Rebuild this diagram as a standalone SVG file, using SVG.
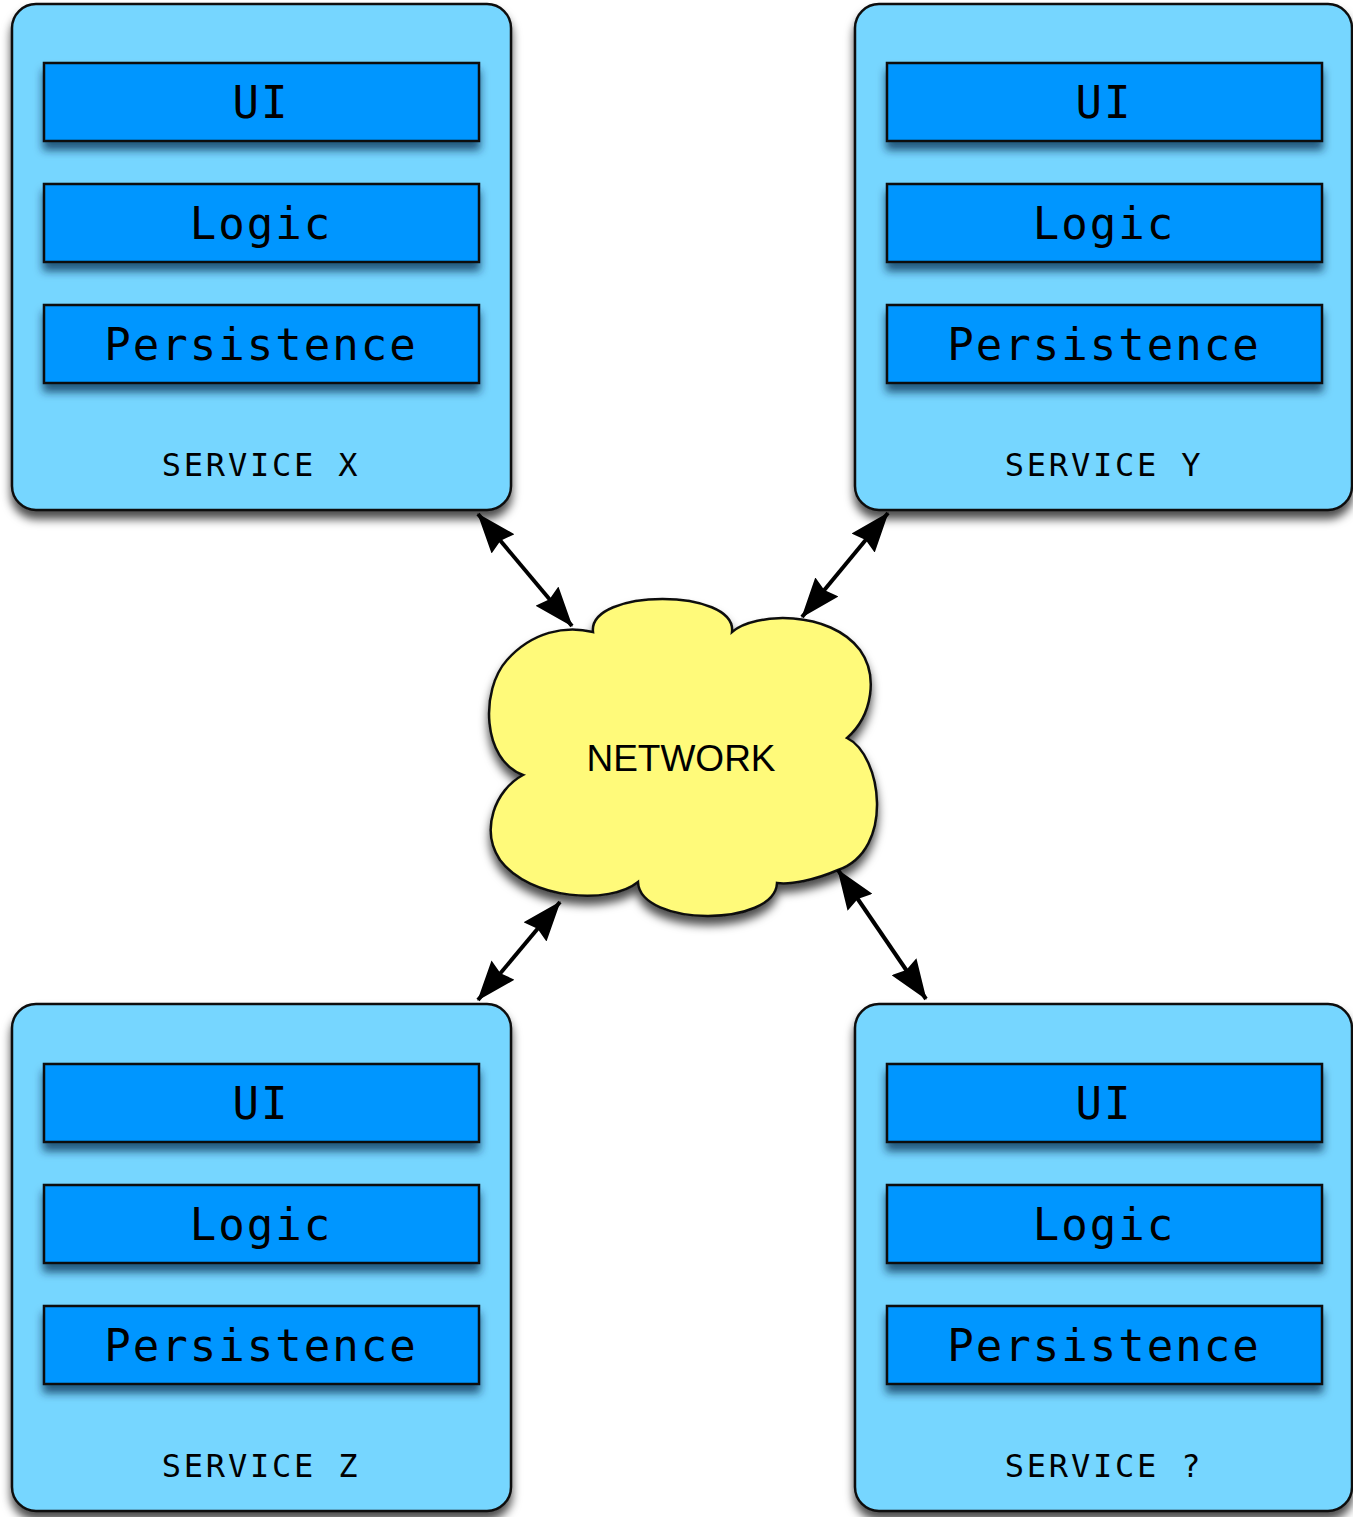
<svg xmlns="http://www.w3.org/2000/svg" width="1353" height="1517" viewBox="0 0 1353 1517">
  <defs>
    <filter id="shadow" x="-10%" y="-10%" width="125%" height="130%">
      <feDropShadow dx="0" dy="8" stdDeviation="5" flood-color="#000" flood-opacity="0.7"/>
    </filter>
    <filter id="barShadow" x="-5%" y="-20%" width="110%" height="160%">
      <feDropShadow dx="0" dy="8" stdDeviation="4" flood-color="#002244" flood-opacity="0.7"/>
    </filter>
    <marker id="head" viewBox="0 0 40 30" refX="39" refY="15" markerWidth="40" markerHeight="30" markerUnits="userSpaceOnUse" orient="auto-start-reverse">
      <path d="M0,0 L40,15 L0,30 L4,15 Z" fill="#000"/>
    </marker>
  </defs>
  <style>
    .svc { fill: #76d6ff; stroke: #111; stroke-width: 2.5; }
    .bar { fill: #0096ff; stroke: #111; stroke-width: 2.5; }
    .layer { font-family: "DejaVu Sans Mono", "Liberation Mono", monospace; font-size: 44px; letter-spacing: 2px; fill: #000; text-anchor: middle; }
    .name { font-family: "DejaVu Sans Mono", "Liberation Mono", monospace; font-size: 32px; letter-spacing: 2.8px; fill: #000; text-anchor: middle; }
    .cloud { fill: #fffa7a; stroke: #111; stroke-width: 2.5; }
    .net { font-family: "Liberation Sans", Arial, sans-serif; font-size: 37px; fill: #000; text-anchor: middle; }
    .link { stroke: #000; stroke-width: 4; fill: none; marker-start: url(#head); marker-end: url(#head); }
  </style>

  <!-- service X -->
  <g id="service-x">
    <rect class="svc" x="12" y="4" width="499" height="506" rx="24" filter="url(#shadow)"/>
    <rect class="bar" x="44" y="63" width="435" height="78" filter="url(#barShadow)"/>
    <text class="layer" x="261" y="118">UI</text>
    <rect class="bar" x="44" y="184" width="435" height="78" filter="url(#barShadow)"/>
    <text class="layer" x="261" y="239">Logic</text>
    <rect class="bar" x="44" y="305" width="435" height="78" filter="url(#barShadow)"/>
    <text class="layer" x="261" y="360">Persistence</text>
    <text class="name" x="261" y="476">SERVICE X</text>
  </g>

  <!-- service Y -->
  <g id="service-y">
    <rect class="svc" x="855" y="4" width="497" height="506" rx="24" filter="url(#shadow)"/>
    <rect class="bar" x="887" y="63" width="435" height="78" filter="url(#barShadow)"/>
    <text class="layer" x="1104" y="118">UI</text>
    <rect class="bar" x="887" y="184" width="435" height="78" filter="url(#barShadow)"/>
    <text class="layer" x="1104" y="239">Logic</text>
    <rect class="bar" x="887" y="305" width="435" height="78" filter="url(#barShadow)"/>
    <text class="layer" x="1104" y="360">Persistence</text>
    <text class="name" x="1104" y="476">SERVICE Y</text>
  </g>

  <!-- service Z -->
  <g id="service-z">
    <rect class="svc" x="12" y="1004" width="499" height="507" rx="24" filter="url(#shadow)"/>
    <rect class="bar" x="44" y="1064" width="435" height="78" filter="url(#barShadow)"/>
    <text class="layer" x="261" y="1119">UI</text>
    <rect class="bar" x="44" y="1185" width="435" height="78" filter="url(#barShadow)"/>
    <text class="layer" x="261" y="1240">Logic</text>
    <rect class="bar" x="44" y="1306" width="435" height="78" filter="url(#barShadow)"/>
    <text class="layer" x="261" y="1361">Persistence</text>
    <text class="name" x="261" y="1477">SERVICE Z</text>
  </g>

  <!-- service ? -->
  <g id="service-unknown">
    <rect class="svc" x="855" y="1004" width="497" height="507" rx="24" filter="url(#shadow)"/>
    <rect class="bar" x="887" y="1064" width="435" height="78" filter="url(#barShadow)"/>
    <text class="layer" x="1104" y="1119">UI</text>
    <rect class="bar" x="887" y="1185" width="435" height="78" filter="url(#barShadow)"/>
    <text class="layer" x="1104" y="1240">Logic</text>
    <rect class="bar" x="887" y="1306" width="435" height="78" filter="url(#barShadow)"/>
    <text class="layer" x="1104" y="1361">Persistence</text>
    <text class="name" x="1104" y="1477">SERVICE ?</text>
  </g>

  <!-- network cloud -->
  <g id="network">
    <path class="cloud" filter="url(#shadow)" d="M593,632 C588,588 737,588 732,632 C755,612 830,610 860,650 C878,675 873,715 847,738 C882,755 895,850 838,870 C815,880 790,885 777,883 C775,927 640,927 638,882 C610,905 530,900 500,860 C480,830 495,790 523,775 C482,760 480,690 507,660 C532,632 565,625 593,632 Z"/>
    <text class="net" x="681" y="771">NETWORK</text>
  </g>

  <!-- connectors -->
  <g id="connectors">
    <line class="link" x1="478" y1="514" x2="572" y2="626"/>
    <line class="link" x1="888" y1="513" x2="802" y2="617"/>
    <line class="link" x1="560" y1="902" x2="478" y2="1000"/>
    <line class="link" x1="838" y1="870" x2="926" y2="999"/>
  </g>
</svg>
